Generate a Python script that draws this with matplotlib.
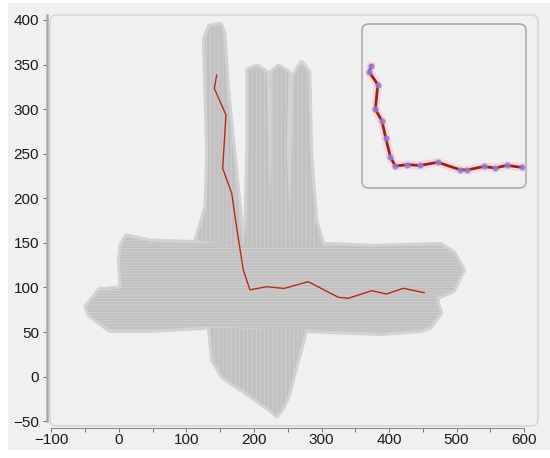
import matplotlib
matplotlib.use("Agg")
import matplotlib.pyplot as plt
from matplotlib.patches import Polygon, FancyBboxPatch, Rectangle
import numpy as np

plt.rcParams['font.family'] = ['Liberation Sans', 'DejaVu Sans']

# ---------------- data ----------------
# highlighted trajectory (x, y)
traj_x = [144.7, 141.2, 158.5, 153.6, 167.0, 174.8, 184.1, 194.0, 218.8, 244.4,
          280.4, 324.9, 339.7, 374.4, 396.6, 421.2, 451.9]
traj_y = [338.2, 323.3, 293.4, 233.6, 205.6, 164.5, 119.7, 97.3, 100.9, 98.9,
          106.5, 89.0, 87.9, 96.4, 92.7, 99.1, 94.2]

# envelopes of the grey trajectory bundles (x list, y list)
tall_x = [115.1, 129.9, 132.3, 127.4, 134.8, 149.6, 154.5, 159.6, 169.3, 179.3, 183.7]
tall_y = [153.1, 190.6, 250.8, 377.5, 392.4, 394.3, 385.3, 325.1, 250.8, 175.7, 145.7]

bundleA_x = [183.7, 189.2, 191.6, 191.6, 204.0, 218.8, 221.2, 226.2, 231.1]
bundleA_y = [145.4, 175.7, 250.8, 343.8, 347.5, 340.5, 250.8, 175.7, 145.4]

bundleB_x = [223.7, 226.2, 226.2, 236.0, 250.8, 248.4, 253.3, 257.8]
bundleB_y = [145.4, 250.8, 340.5, 347.5, 340.5, 250.8, 175.7, 145.4]

bundleC_x = [250.4, 253.3, 255.9, 258.2, 270.7, 280.4, 283.0, 290.4, 302.2]
bundleC_y = [145.4, 175.7, 250.8, 336.3, 351.3, 340.5, 250.8, 175.7, 145.4]

upper_x = [4.4, 1.5, 4.0, 11.4, 45.9, 120.0, 312.6, 376.3, 475.6, 494.8, 509.2, 494.8, 475.6]
upper_y = [95.0, 130.8, 147.6, 157.0, 151.3, 149.6, 147.6, 145.4, 147.6, 138.7, 119.6, 97.2, 90.5]

lower_x = [-47.9, -28.1, -18.2, 4.4, 471.0, 470.7, 475.6, 460.7, 446.0, 386.7,
           278.0, 130.0, 46.0, -13.3, -43.0]
lower_y = [78.5, 97.2, 97.2, 99.4, 97.2, 82.6, 71.4, 56.1, 52.4, 49.0,
           52.4, 56.1, 52.4, 52.4, 69.2]

down_x = [134.8, 139.3, 154.1, 183.7, 218.8, 233.6, 241.5, 250.4, 257.8, 268.1, 275.6]
down_y = [54.8, 18.7, 0.0, -14.9, -33.6, -42.9, -35.1, -20.5, 1.9, 29.9, 52.4]

x_ticks = [-100, 0, 100, 200, 300, 400, 500, 600]
y_ticks = [-50, 0, 50, 100, 150, 200, 250, 300, 350, 400]

# ---------------- figure ----------------
W, H = 550, 458
fig = plt.figure(figsize=(W / 100, H / 100), dpi=100, facecolor='white')
fig.patches.append(Rectangle((8 / W, 8 / H), 1 - 8 / W, 1 - 11 / H,
                             transform=fig.transFigure, facecolor='#f0f0f0',
                             edgecolor='none', zorder=-10))

# main panel (rounded)
pl, pr, pt, pb = 50, 538, 15, 426
fig.patches.append(FancyBboxPatch((pl / W, 1 - pb / H), (pr - pl) / W, (pb - pt) / H,
                                  boxstyle="round,pad=0,rounding_size=0.012",
                                  mutation_aspect=W / H,
                                  transform=fig.transFigure, facecolor='#f0f0f0',
                                  edgecolor='#d2d2d2', linewidth=1.0, zorder=-5))

ax = fig.add_axes([pl / W, 1 - pb / H, (pr - pl) / W, (pb - pt) / H])
ax.set_facecolor('none')
ax.set_xlim(-102.2, 620.7)
ax.set_ylim(-55.3, 405.5)

plt.rcParams['hatch.linewidth'] = 0.5
fill_col = '#c1c1c1'
hatch_col = '#d3d3d3'
fringe_col = '#d2d2d2'

groups = [(lower_x, lower_y, '------'), (upper_x, upper_y, '------'),
          (down_x, down_y, '||||'), (tall_x, tall_y, '||||'),
          (bundleA_x, bundleA_y, '||||'), (bundleB_x, bundleB_y, '||||'),
          (bundleC_x, bundleC_y, '||||')]

# soft fringe of sparse trajectories around each bundle
for xs, ys, h in groups:
    ax.add_patch(Polygon(np.column_stack([xs, ys]), closed=True, facecolor='none',
                         edgecolor=fringe_col, linewidth=4.5, joinstyle='round',
                         zorder=0.5))
# dense cores
for xs, ys, h in groups:
    ax.add_patch(Polygon(np.column_stack([xs, ys]), closed=True, facecolor=fill_col,
                         edgecolor=hatch_col, linewidth=0, hatch=h, zorder=1))

ax.plot(traj_x, traj_y, color='#f2b3c8', lw=3.5, alpha=0.45, zorder=2,
        solid_joinstyle='round')
ax.plot(traj_x, traj_y, color='#8f3f12', lw=1.0, zorder=3)

# axes styling
for s in ['top', 'right']:
    ax.spines[s].set_visible(False)
ax.spines['left'].set_position(('outward', 2.2))
ax.spines['left'].set_bounds(-50, 405)
ax.spines['left'].set_color('#a8a8a8')
ax.spines['left'].set_linewidth(1.8)
ax.spines['bottom'].set_position(('outward', 1.2))
ax.spines['bottom'].set_bounds(-100, 600)
ax.spines['bottom'].set_color('#8a8a8a')
ax.spines['bottom'].set_linewidth(0.8)

ax.set_xticks(x_ticks)
ax.set_xticks([-50, 50, 150, 250, 350, 450, 550], minor=True)
ax.set_yticks(y_ticks)
ax.tick_params(axis='both', which='both', direction='out', length=2.6,
               width=0.7, color='#707070', labelsize=11, labelcolor='#1a1a1a')
ax.tick_params(axis='y', pad=3.0)
ax.tick_params(axis='x', pad=1.5)

# inset
il, ir, it, ib = 362, 526, 24, 188
fig.patches.append(FancyBboxPatch((il / W, 1 - ib / H), (ir - il) / W, (ib - it) / H,
                                  boxstyle="round,pad=0,rounding_size=0.012",
                                  mutation_aspect=W / H,
                                  transform=fig.transFigure, facecolor='#f0f0f0',
                                  edgecolor='#a8a8a8', linewidth=1.1, zorder=5))
iax = fig.add_axes([il / W, 1 - ib / H, (ir - il) / W, (ib - it) / H], zorder=6)
iax.set_facecolor('none')
iax.axis('off')
iax.set_xlim(126.4, 460.0)
iax.set_ylim(44.7, 439.0)
iax.plot(traj_x, traj_y, color='#ffc4e4', lw=6, alpha=0.7, solid_joinstyle='round')
iax.plot(traj_x, traj_y, color='#8e2a08', lw=2.0)
iax.plot(traj_x, traj_y, 'o', color='#8f80d8', ms=4.5, alpha=0.85, mec='none')

fig.savefig('out.png', dpi=100, facecolor='white')
